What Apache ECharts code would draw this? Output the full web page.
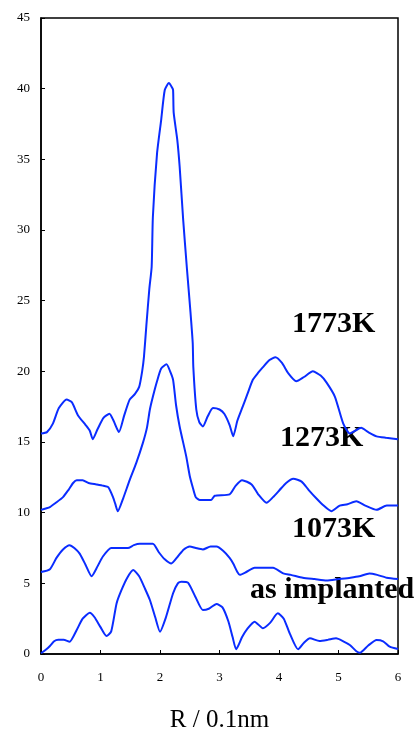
<!DOCTYPE html>
<html>
<head>
<meta charset="utf-8">
<script src="https://cdn.jsdelivr.net/npm/echarts@6/dist/echarts.min.js"></script>
<style>
	html, body { margin: 0; padding: 0; background: #fff; }
	#rdf { width: 419px; height: 731px; }
</style>
</head>
<body>
<div id="rdf"></div>
<script>
// R (0.1nm), value pairs
var d1773 = [[0,15.6],[0.1,15.7],[0.2,16.3],[0.3,17.4],[0.43,18.0],[0.52,17.8],[0.62,16.9],[0.75,16.2],[0.82,15.8],[0.87,15.2],[0.95,15.9],[1.05,16.7],[1.15,17.0],[1.22,16.5],[1.31,15.7],[1.4,16.9],[1.49,18.0],[1.58,18.4],[1.65,18.9],[1.70,20.0],[1.73,21.0],[1.77,23.2],[1.82,25.8],[1.86,27.4],[1.88,30.9],[1.95,35.4],[2.02,37.8],[2.08,39.9],[2.15,40.4],[2.2,40.1],[2.22,39.9],[2.23,38.3],[2.29,36.4],[2.33,34.5],[2.39,30.7],[2.45,27.4],[2.51,24.3],[2.55,22.0],[2.56,20.3],[2.61,17.3],[2.66,16.4],[2.72,16.1],[2.8,16.8],[2.89,17.4],[3.0,17.3],[3.08,17.0],[3.17,16.2],[3.23,15.4],[3.3,16.5],[3.39,17.5],[3.47,18.4],[3.56,19.4],[3.65,19.9],[3.73,20.3],[3.84,20.8],[3.94,21.0],[4.05,20.6],[4.15,19.9],[4.29,19.3],[4.42,19.6],[4.57,20.0],[4.7,19.7],[4.80,19.2],[4.94,18.2],[5.08,16.3],[5.19,15.6],[5.28,15.8],[5.38,16.0],[5.5,15.7],[5.64,15.4],[5.8,15.3],[6.0,15.2]];
var d1273 = [[0,10.2],[0.08,10.3],[0.15,10.4],[0.25,10.7],[0.37,11.1],[0.46,11.6],[0.54,12.1],[0.6,12.3],[0.7,12.3],[0.8,12.1],[0.93,12.0],[1.05,11.9],[1.13,11.8],[1.21,11.1],[1.25,10.6],[1.29,10.1],[1.38,11.0],[1.49,12.3],[1.6,13.5],[1.71,14.9],[1.78,16.0],[1.83,17.3],[1.88,18.2],[1.95,19.3],[2.02,20.2],[2.11,20.5],[2.17,20.0],[2.22,19.4],[2.27,17.6],[2.33,16.1],[2.44,14.0],[2.5,12.6],[2.55,11.8],[2.6,11.1],[2.67,10.9],[2.86,10.9],[2.92,11.2],[3.17,11.3],[3.27,11.9],[3.38,12.3],[3.54,12.0],[3.65,11.3],[3.79,10.7],[3.9,11.1],[4.01,11.6],[4.12,12.1],[4.24,12.4],[4.38,12.2],[4.5,11.6],[4.63,11.0],[4.75,10.5],[4.88,10.1],[5.02,10.5],[5.15,10.6],[5.3,10.8],[5.45,10.5],[5.64,10.2],[5.81,10.5],[6.0,10.5]];
var d1073 = [[0,5.8],[0.15,6.0],[0.26,6.8],[0.37,7.4],[0.48,7.7],[0.56,7.5],[0.65,7.1],[0.75,6.3],[0.85,5.5],[0.95,6.2],[1.04,6.9],[1.18,7.5],[1.3,7.5],[1.46,7.5],[1.56,7.7],[1.66,7.8],[1.88,7.8],[1.98,7.2],[2.08,6.7],[2.19,6.4],[2.3,6.9],[2.4,7.4],[2.5,7.6],[2.6,7.5],[2.72,7.4],[2.85,7.6],[2.95,7.6],[3.06,7.3],[3.17,6.8],[3.23,6.4],[3.3,5.8],[3.34,5.6],[3.45,5.8],[3.59,6.1],[3.75,6.1],[3.9,6.1],[4.07,5.7],[4.2,5.6],[4.4,5.4],[4.6,5.3],[4.8,5.2],[5.0,5.3],[5.2,5.4],[5.35,5.5],[5.52,5.7],[5.65,5.6],[5.81,5.4],[6.0,5.3]];
var dAsImpl = [[0,0.05],[0.08,0.3],[0.15,0.57],[0.22,0.9],[0.29,1.0],[0.38,1.0],[0.48,0.87],[0.6,1.7],[0.7,2.5],[0.82,2.92],[0.9,2.6],[1.0,1.9],[1.1,1.27],[1.18,1.6],[1.27,3.58],[1.35,4.5],[1.45,5.4],[1.55,5.94],[1.65,5.5],[1.75,4.6],[1.83,3.82],[1.92,2.6],[2.0,1.58],[2.1,2.6],[2.22,4.3],[2.3,5.0],[2.36,5.12],[2.47,5.05],[2.6,4.0],[2.72,3.11],[2.82,3.2],[2.95,3.54],[3.05,3.3],[3.15,2.3],[3.22,1.2],[3.28,0.33],[3.38,1.2],[3.47,1.8],[3.59,2.29],[3.73,1.82],[3.85,2.2],[3.98,2.88],[4.08,2.5],[4.18,1.46],[4.32,0.33],[4.42,0.8],[4.52,1.11],[4.68,0.92],[4.82,1.0],[4.96,1.11],[5.08,0.9],[5.19,0.64],[5.3,0.2],[5.36,0.09],[5.5,0.6],[5.64,0.99],[5.75,0.9],[5.86,0.52],[6.0,0.35]];

var seriesNames = ['1773K', '1273K', '1073K', 'as implanted'];
var seriesData = [d1773, d1273, d1073, dAsImpl];
var xTicks = [0, 6, 1];   // min, max, interval
var yTicks = [0, 45, 5];

var myChart = echarts.init(document.getElementById('rdf'));

var serif = '"Liberation Serif", "DejaVu Serif", serif';
var lineColor = '#0a2cff';

// curve labels sit inside the plot, to the right of each curve
var labelPos = [[292, 325], [280, 439], [292, 530], [250, 591]];

var series = [];
for (var i = 0; i < seriesData.length; i++) {
	series.push({
		name : seriesNames[i],
		type : 'line',
		data : seriesData[i],
		symbol : 'none',
		smooth : 0.2,
		lineStyle : { color : lineColor, width : 2 },
		animation : false
	});
}

var graphic = [];
for (var j = 0; j < seriesNames.length; j++) {
	graphic.push({
		type : 'text',
		left : labelPos[j][0],
		top : labelPos[j][1] - 16,
		style : {
			text : seriesNames[j],
			font : 'bold 30px ' + serif,
			fill : '#000'
		}
	});
}

var axisLabel = { color : '#000', fontFamily : serif, fontSize : 13 };

var option = {
	backgroundColor : '#fff',
	grid : {
		left : 41,
		right : 21,
		top : 18,
		bottom : 77,
		outerBoundsMode : 'none',
		show : true,
		borderColor : '#000',
		borderWidth : 1.5
	},
	xAxis : {
		type : 'value',
		min : xTicks[0],
		max : xTicks[1],
		interval : xTicks[2],
		name : 'R / 0.1nm',
		nameLocation : 'middle',
		nameGap : 54,
		nameTextStyle : { color : '#000', fontFamily : serif, fontSize : 25 },
		axisLine : { lineStyle : { color : '#000', width : 1.5 } },
		axisTick : { inside : true, length : 4, lineStyle : { color : '#000' } },
		axisLabel : Object.assign({ margin : 17 }, axisLabel),
		splitLine : { show : false }
	},
	yAxis : {
		type : 'value',
		min : yTicks[0],
		max : yTicks[1],
		interval : yTicks[2],
		axisLine : { show : true, lineStyle : { color : '#000', width : 1.5 } },
		axisTick : { show : true, inside : true, length : 4, lineStyle : { color : '#000' } },
		axisLabel : Object.assign({ margin : 11 }, axisLabel),
		splitLine : { show : false }
	},
	graphic : graphic,
	series : series
};

myChart.setOption(option);
</script>
</body>
</html>
